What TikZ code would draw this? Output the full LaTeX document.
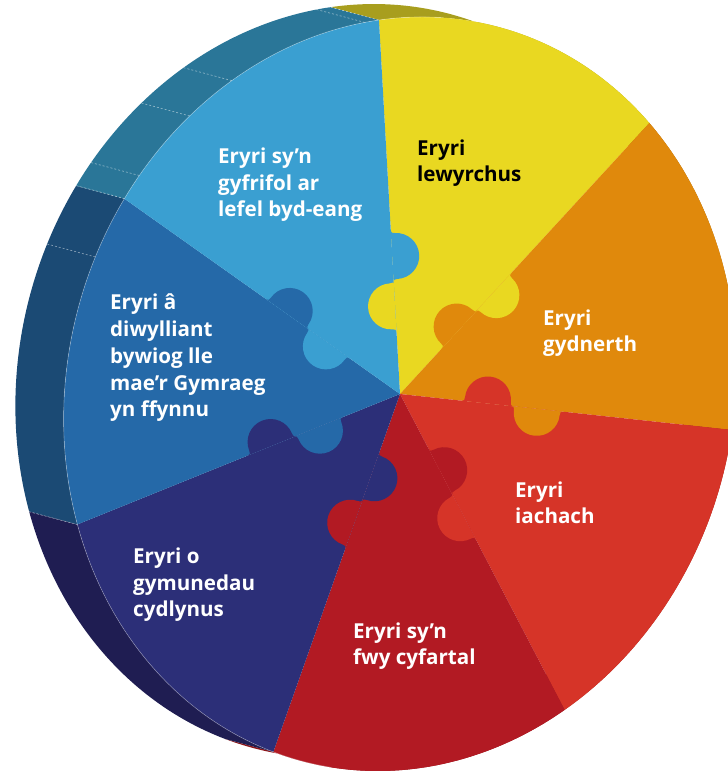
\documentclass[tikz,border=0pt]{standalone}
\usepackage{fontspec}
\setmainfont{Open Sans}

\definecolor{Yel}{HTML}{E9D821}
\definecolor{Ora}{HTML}{E0890C}
\definecolor{Red}{HTML}{D63428}
\definecolor{DRed}{HTML}{B21A23}
\definecolor{Navy}{HTML}{2C2F78}
\definecolor{MBlue}{HTML}{2569A8}
\definecolor{LBlue}{HTML}{3A9FD1}
\definecolor{sideY}{HTML}{A89E1E}
\definecolor{sideO}{HTML}{A0620A}
\definecolor{sideR}{HTML}{9A2A20}
\definecolor{sideDR}{HTML}{8E1519}
\definecolor{sideN}{HTML}{1F1D52}
\definecolor{sideMB}{HTML}{1B4A74}
\definecolor{sideLB}{HTML}{2A7698}

\newcommand\knob[3]{\fill[#1, yscale=#3] (#2-27,0) .. controls (#2-23,0) and (#2-23,1.5) .. (#2-23,4)
	arc[start angle=180, end angle=0, radius=23] .. controls (#2+23,1.5) and (#2+23,0) .. (#2+27,0) -- cycle;}

\begin{document}
\begin{tikzpicture}[x=1pt, y=1pt,
		wedgetext/.style={inner sep=0pt, anchor=base west, align=left, text=white,
			font=\bfseries\fontsize{20.6}{26.8}\selectfont}]
			\useasboundingbox (0,0) rectangle (728,771);

			\begin{scope}[shift={(400,377)}, rotate=-15]
			% side of the disc
			\foreach \col [count=\k from 0] in {sideY,sideO,sideR,sideDR,sideN,sideMB,sideLB}{
				\pgfmathsetmacro\ta{110.6-51.43*\k}
				\pgfmathsetmacro\tb{\ta-51.43}
				\fill[\col] (\ta:333 and 380) arc[start angle=\ta, end angle=\tb, x radius=333, y radius=380]
				-- ++(-50,0) arc[start angle=\tb, end angle=\ta, x radius=333, y radius=380] -- cycle;
			}
			\foreach \t in {110.6,113,137,145.7,157.8,162,171.9,213.5}
				\draw[white, opacity=0.5, line width=0.6, dash pattern=on 2 off 2] (\t:333 and 380) -- ++(-50,0);

			% top face
			\foreach \col [count=\k from 0] in {Yel,Ora,Red,DRed,Navy,MBlue,LBlue}{
				\pgfmathsetmacro\ta{110.6-51.43*\k}
				\pgfmathsetmacro\tb{\ta-51.43}
				\fill[\col] (0,0) -- (\ta:333 and 380) arc[start angle=\ta, end angle=\tb, x radius=333, y radius=380] -- cycle;
			}
			\draw[white, opacity=0.35, line width=0.6] (100:333 and 380) arc[start angle=100, end angle=275, x radius=333, y radius=380];

			% puzzle knobs
			\foreach \cw/\ccw [count=\k from 0] in {Yel/LBlue,Ora/Yel,Red/Ora,DRed/Red,Navy/DRed,MBlue/Navy,LBlue/MBlue}{
				\pgfmathsetmacro\ta{110.6-51.43*\k}
				\pgfmathsetmacro\dir{atan2(380*sin(\ta),333*cos(\ta))}
				\begin{scope}[rotate=\dir]
					\knob{\cw}{88}{1}
					\knob{\ccw}{138}{-1}
				\end{scope}
			}
			\end{scope}

			\node[wedgetext] (lbtext) at (218,554) {Eryri sy’n\\gyfrifol ar\\lefel byd-eang};
			\node[wedgetext, text=black] (ytext) at (417,589) {Eryri\\lewyrchus};
			\node[wedgetext] (otext) at (543,419) {Eryri\\gydnerth};
			\node[wedgetext] (mbtext) at (110,354) {Eryri â\\diwylliant\\bywiog lle\\mae’r Gymraeg\\yn ffynnu};
			\node[wedgetext] (rtext) at (515,247) {Eryri\\iachach};
			\node[wedgetext] (ntext) at (133,154) {Eryri o\\gymunedau\\cydlynus};
			\node[wedgetext] (drtext) at (353,106) {Eryri sy’n\\fwy cyfartal};
		\end{tikzpicture}
\end{document}
